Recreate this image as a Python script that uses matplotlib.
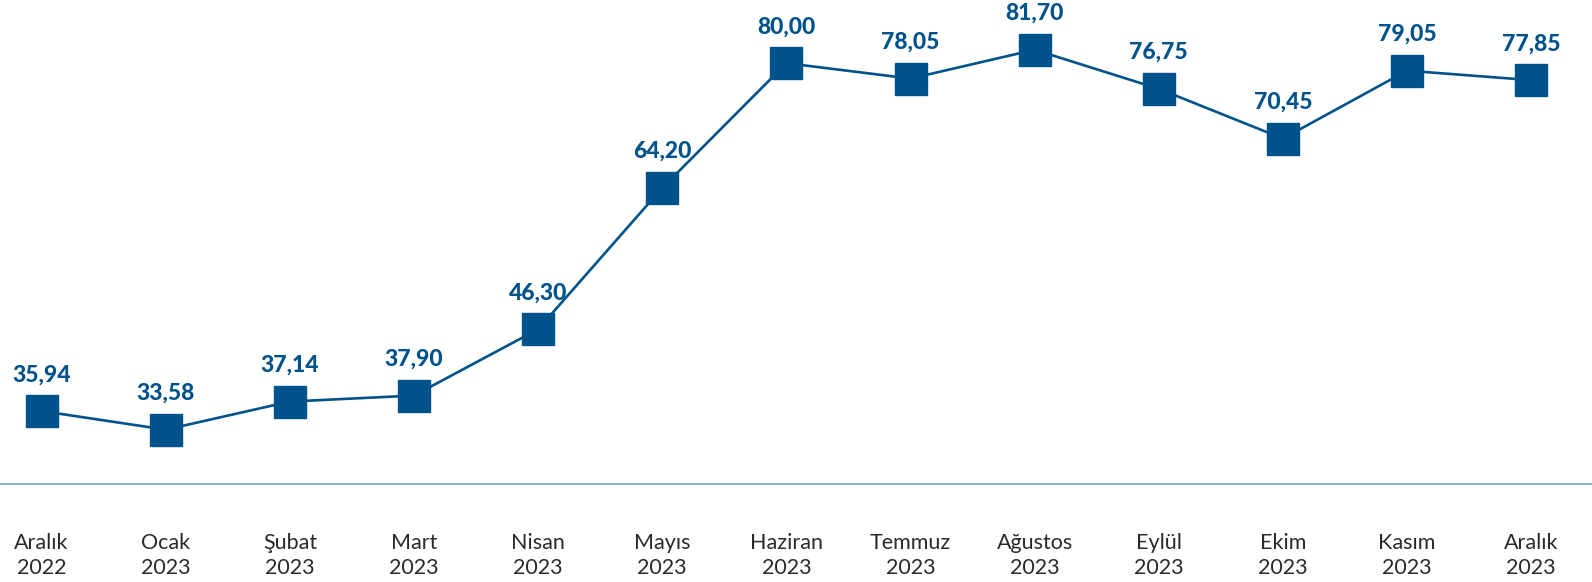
import matplotlib
matplotlib.use("Agg")
from matplotlib import pyplot as plt

months = ["Aralık\n2022", "Ocak\n2023", "Şubat\n2023", "Mart\n2023", "Nisan\n2023",
          "Mayıs\n2023", "Haziran\n2023", "Temmuz\n2023", "Ağustos\n2023", "Eylül\n2023",
          "Ekim\n2023", "Kasım\n2023", "Aralık\n2023"]
values = [35.94, 33.58, 37.14, 37.90, 46.30, 64.20, 80.00, 78.05, 81.70, 76.75, 70.45, 79.05, 77.85]

blue = "#00528a"
plt.rcParams["font.family"] = ["Lato", "DejaVu Sans"]

fig = plt.figure(figsize=(15.92, 5.82), dpi=100)
ax = fig.add_axes([0, 0.1684, 1, 0.8316])

x = list(range(len(values)))
ax.plot(x, values, color=blue, linewidth=1.9, marker="s", markersize=22.5, zorder=3)

for i, v in enumerate(values):
    ax.annotate(f"{v:.2f}".replace(".", ","), (i, v), xytext=(0, 21.5), textcoords="offset points",
                ha="center", va="baseline", fontsize=16.5, fontweight=900, fontstyle="normal",
                color=blue)

ax.set_xlim(-0.335, 12.49)
ax.set_ylim(26.7, 88.0)
ax.set_xticks(x)
ax.set_xticklabels(months, fontsize=15.5, fontweight="normal", color="#2a2a2a", linespacing=1.3)
ax.tick_params(axis="x", length=0, pad=35.5)
ax.set_yticks([])
for s in ["top", "left", "right"]:
    ax.spines[s].set_visible(False)
ax.spines["bottom"].set_color("#7fa3c0")
ax.spines["bottom"].set_linewidth(1.2)

plt.savefig("out.png", dpi=100)
